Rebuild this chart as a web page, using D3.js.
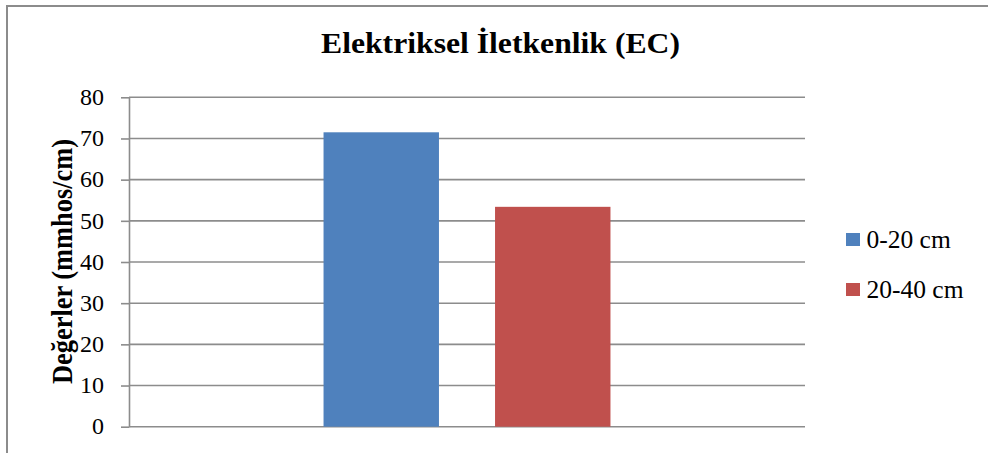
<!DOCTYPE html>
<html>
<head>
<meta charset="utf-8">
<script src="https://cdn.jsdelivr.net/npm/d3@7"></script>
<style>
  html, body { margin: 0; padding: 0; background: #fff; }
  svg { display: block; }
  svg text { font-family: "Liberation Serif", "Times New Roman", serif; fill: #000; }
</style>
</head>
<body>
<svg id="chart" width="988" height="453"></svg>
<script>
const title = "Elektriksel İletkenlik (EC)";
const yTitle = "Değerler (mmhos/cm)";
const categories = [""];
const seriesNames = ["0-20 cm", "20-40 cm"];
const seriesValues = [71.5, 53.4];
const seriesColors = ["#4F81BD", "#C0504D"];
const yTicks = [0, 10, 20, 30, 40, 50, 60, 70, 80];

const W = 988, H = 453;
const FONT = "'Liberation Serif', 'Times New Roman', serif";
const margin = { left: 129, right: 183, top: 97.3, bottom: 26.3 };
const svg = d3.select("#chart").attr("font-family", FONT);

// outer border
svg.append("rect")
  .attr("x", 7).attr("y", 6)
  .attr("width", W + 10).attr("height", H + 10)
  .attr("fill", "none").attr("stroke", "#8c8c8c").attr("stroke-width", 2);

const x0 = margin.left, x1 = W - margin.right;
const yTop = margin.top, yBot = H - margin.bottom;

const y = d3.scaleLinear().domain([0, 80]).range([yBot, yTop]);
const xCat = d3.scaleBand().domain(categories).range([x0, x1]).paddingInner(0).paddingOuter(0.678);
const xSer = d3.scaleBand().domain(seriesNames).range([0, xCat.bandwidth()]).paddingInner(0.327);

// gridlines
svg.append("g").selectAll("line").data(yTicks).join("line")
  .attr("x1", x0).attr("x2", x1)
  .attr("y1", d => y(d)).attr("y2", d => y(d))
  .attr("stroke", "#8c8c8c").attr("stroke-width", 1.6);

// y axis
const yAxis = d3.axisLeft(y).tickValues(yTicks).tickSize(8).tickPadding(17).tickSizeOuter(0);
const gy = svg.append("g").attr("transform", `translate(${x0},0)`).call(yAxis)
  .attr("font-family", FONT).attr("font-size", 24);
gy.select(".domain").attr("stroke", "#8c8c8c").attr("stroke-width", 1.6);
gy.selectAll(".tick line").attr("stroke", "#8c8c8c").attr("stroke-width", 1.6);
gy.selectAll(".tick text")
  .attr("font-family", FONT)
  .attr("font-size", 24).attr("fill", "#000").attr("dy", "0.3em");

// bars
const bars = seriesNames.map((s, i) => ({ s, v: seriesValues[i], c: seriesColors[i] }));
svg.append("g").selectAll("rect").data(bars).join("rect")
  .attr("x", d => xCat(categories[0]) + xSer(d.s))
  .attr("width", xSer.bandwidth())
  .attr("y", d => y(d.v))
  .attr("height", d => y(0) - y(d.v))
  .attr("fill", d => d.c);

// title
svg.append("text")
  .attr("x", 500.5).attr("y", 53.3)
  .attr("text-anchor", "middle")
  .attr("font-family", FONT)
  .attr("font-size", 30).attr("font-weight", "bold")
  .attr("textLength", 359).attr("lengthAdjust", "spacingAndGlyphs")
  .text(title);

// y axis title
svg.append("text")
  .attr("transform", "translate(71.5,261.5) rotate(-90)")
  .attr("text-anchor", "middle")
  .attr("font-family", FONT)
  .attr("font-size", 30).attr("font-weight", "bold")
  .attr("textLength", 245).attr("lengthAdjust", "spacingAndGlyphs")
  .text(yTitle);

// legend
const lg = svg.append("g");
const rows = lg.selectAll("g").data(bars).join("g")
  .attr("transform", (d, i) => `translate(846,${233 + i * 50})`);
rows.append("rect").attr("width", 14).attr("height", 13).attr("fill", d => d.c);
rows.append("text").attr("x", 20.5).attr("y", 14.7)
  .attr("font-family", FONT)
  .attr("font-size", 25.5).text(d => d.s);
</script>
</body>
</html>
